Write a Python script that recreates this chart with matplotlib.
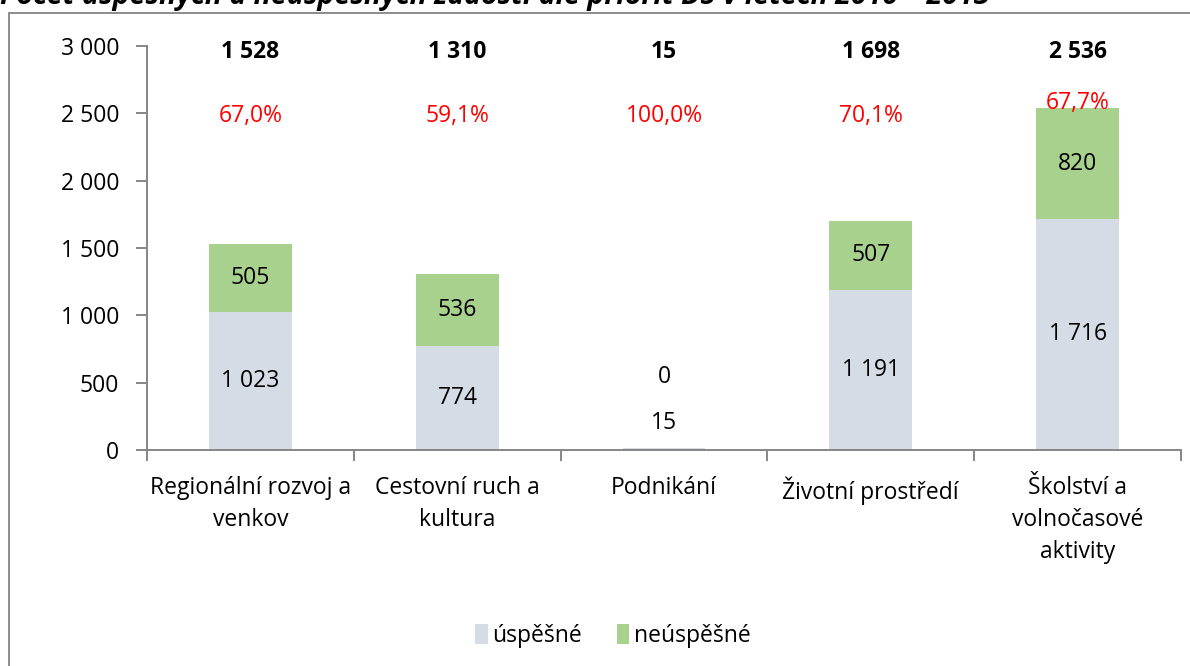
import matplotlib
matplotlib.use("Agg")
import matplotlib.pyplot as plt
from matplotlib.patches import Rectangle

categories = ["Regionální rozvoj a\nvenkov", "Cestovní ruch a\nkultura", "Podnikání",
              "Životní prostředí", "Školství a\nvolnočasové\naktivity"]
successful = [1023, 774, 15, 1191, 1716]
unsuccessful = [505, 536, 0, 507, 820]
totals = [1528, 1310, 15, 1698, 2536]
pct_labels = ["67,0%", "59,1%", "100,0%", "70,1%", "67,7%"]
yticks = [0, 500, 1000, 1500, 2000, 2500, 3000]
title = "Počet úspěšných a neúspěšných žádostí dle priorit DS v letech 2010 – 2013"

FONT = ["Open Sans", "DejaVu Sans"]
plt.rcParams["font.family"] = FONT
FS = 16.5

W, H = 1190, 666
fig = plt.figure(figsize=(W / 100, H / 100), dpi=100)

def fx(px):
    return px / W

def fy(py):
    return 1 - py / H

ax = fig.add_axes([fx(147), fy(450), fx(1181) - fx(147), fy(46) - fy(450)])

c_ok = "#D6DCE5"
c_bad = "#A9D18E"
axis_c = "#868686"

x = list(range(len(categories)))
bw = 0.4
ax.bar(x, successful, width=bw, color=c_ok, label="úspěšné", zorder=2)
ax.bar(x, unsuccessful, width=bw, bottom=successful, color=c_bad, label="neúspěšné", zorder=2)

ax.set_xlim(-0.5, len(categories) - 0.5)
ax.set_ylim(0, 3000)
ax.set_yticks(yticks)
ax.set_yticklabels([f"{v:,}".replace(",", " ") for v in yticks], fontsize=FS)

ax.set_xticks([i - 0.5 for i in range(len(categories) + 1)])
ax.set_xticklabels([])
ax.set_xticks(x, minor=True)
ax.set_xticklabels(categories, minor=True, fontsize=FS, linespacing=1.42)
ax.tick_params(axis="x", which="minor", length=0, pad=19)
ax.tick_params(axis="x", which="major", length=8, color=axis_c, width=1.4)
ax.tick_params(axis="y", length=8, color=axis_c, width=1.4, pad=12)

for s in ["top", "right"]:
    ax.spines[s].set_visible(False)
for s in ["left", "bottom"]:
    ax.spines[s].set_color(axis_c)
    ax.spines[s].set_linewidth(1.4)

def fmt(v):
    return f"{v:,}".replace(",", " ")

for i in x:
    s, u, t = successful[i], unsuccessful[i], totals[i]
    if s < 150:
        ax.text(i, 200, fmt(s), ha="center", va="center", fontsize=FS)
        ax.text(i, 540, fmt(u), ha="center", va="center", fontsize=FS)
    else:
        ax.text(i, s / 2, fmt(s), ha="center", va="center", fontsize=FS)
        ax.text(i, s + u / 2, fmt(u), ha="center", va="center", fontsize=FS)
    ax.text(i, 2955, fmt(t), ha="center", va="center", fontsize=FS, fontweight="bold")
    py = max(2480, t + 40)
    ax.text(i, py, pct_labels[i], ha="center", va="center", fontsize=FS, color="#FF0000")

leg = fig.legend(loc="center", bbox_to_anchor=(fx(613), fy(636)), ncol=2, frameon=False,
                 fontsize=FS, handlelength=0.55, handleheight=1.0, handletextpad=0.2,
                 columnspacing=1.5)

fig.patches.append(Rectangle((fx(8.5), -0.1), 1.2, fy(12.5) + 0.1, transform=fig.transFigure,
                             fill=False, edgecolor="#8C8C8C", linewidth=1.4))

fig.text(0.0, fy(4), title, ha="left", va="baseline", fontsize=20.5,
         fontweight="bold", fontstyle="italic")

fig.savefig("out.png", dpi=100)
